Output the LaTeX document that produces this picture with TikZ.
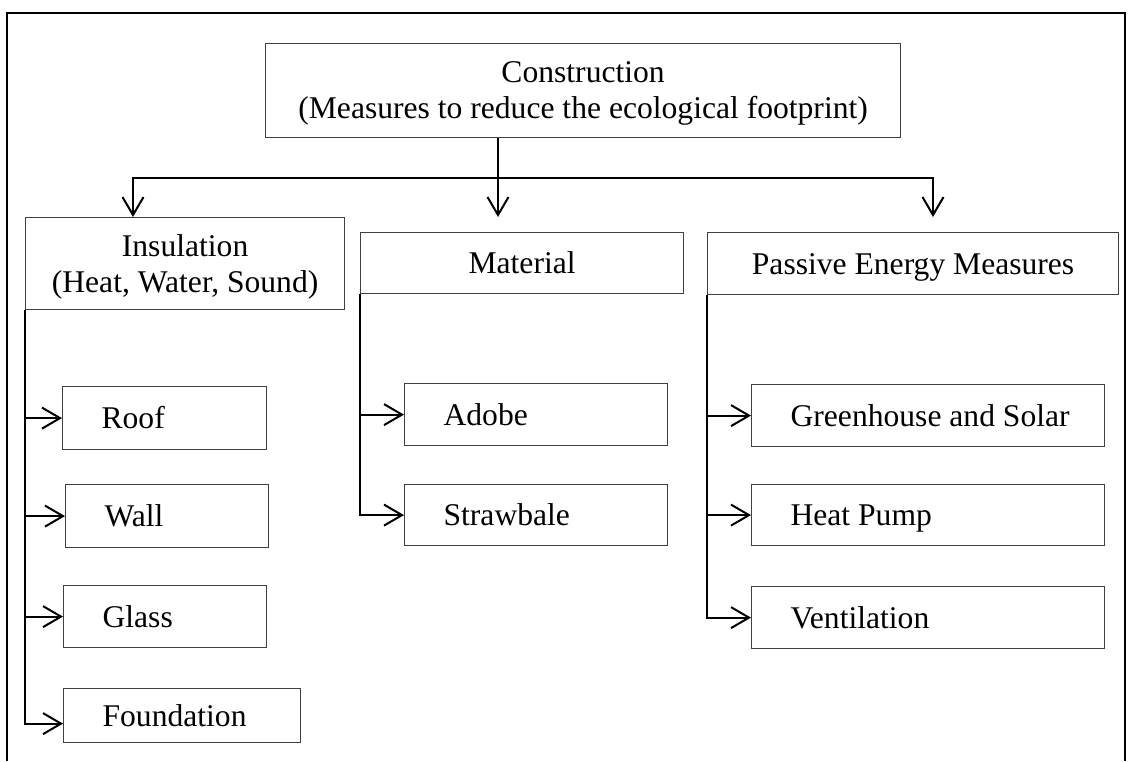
\documentclass[tikz,border=0pt]{standalone}
\usepackage{fontspec}
\setmainfont{Liberation Serif}
\usetikzlibrary{arrows.meta}

\begin{document}
\begin{tikzpicture}[x=0.5pt,y=-0.5pt,
    every node/.style={font=\fontsize{15.8pt}{18pt}\selectfont},
    head/.style={draw=black!75,line width=0.6pt,anchor=north west,align=center,inner sep=0pt},
    item/.style={draw=black!75,line width=0.6pt,anchor=north west,align=flush left,inner sep=0pt,
      text width=#1,text height=10.5pt,text depth=0pt,execute at begin node=\hspace*{19.5pt}},
    conn/.style={line width=1pt,-{Straight Barb[length=9pt,width=10.5pt]}},
    hv/.style={to path={|- (\tikztotarget)}}]
  \useasboundingbox (0,0) rectangle (1128,761);
  \draw[line width=1pt] (7,761) |- (1125,13) -- (1125,761);

  \node[head,minimum width=317.5pt,minimum height=47pt,text height=31pt] (top) at (265,43)
    {Construction\\(Measures to reduce the ecological footprint)};
  \node[head,minimum width=159.5pt,minimum height=46pt,text height=32pt] (ins) at (25,217)
    {Insulation\\(Heat, Water, Sound)};
  \node[head,minimum width=161.5pt,minimum height=30.5pt,text height=10.5pt,text depth=0pt]
    (mat) at (360,232) {Material};
  \node[head,minimum width=205.5pt,minimum height=31pt,text height=10.5pt,text depth=0pt]
    (pas) at (707,232) {Passive Energy Measures};

  \node[item=102pt,minimum height=31.5pt] (roof) at (62,386) {Roof};
  \node[item=101.5pt,minimum height=31.5pt] (wall) at (65,484) {Wall};
  \node[item=101.5pt,minimum height=31pt] (glass) at (63,585) {Glass};
  \node[item=118.5pt,minimum height=27pt] (found) at (63,688) {Foundation};
  \node[item=131.5pt,minimum height=31pt] (adobe) at (404,383) {Adobe};
  \node[item=131.5pt,minimum height=30.5pt] (straw) at (404,484) {Strawbale};
  \node[item=176.5pt,minimum height=31pt] (green) at (751,384) {Greenhouse and Solar};
  \node[item=176.5pt,minimum height=30.5pt] (heat) at (751,484) {Heat Pump};
  \node[item=176.5pt,minimum height=31pt] (vent) at (751,586) {Ventilation};

  \coordinate (split) at (498,178);
  \coordinate (tipL) at (133,217);
  \coordinate (tipM) at (498,217);
  \coordinate (tipR) at (933,217);
  \draw[conn] (split |- top.south) -- (tipM);
  \draw[conn] (split) -| (tipL);
  \draw[conn] (split) -| (tipR);

  \path[conn]
    (ins.south west) edge[hv] (roof.west)
                     edge[hv] (wall.west)
                     edge[hv] (glass.west)
                     edge[hv] ([yshift=-4pt]found.west)
    (mat.south west) edge[hv] (adobe.west)
                     edge[hv] (straw.west)
    (pas.south west) edge[hv] (green.west)
                     edge[hv] (heat.west)
                     edge[hv] (vent.west);
\end{tikzpicture}
\end{document}
